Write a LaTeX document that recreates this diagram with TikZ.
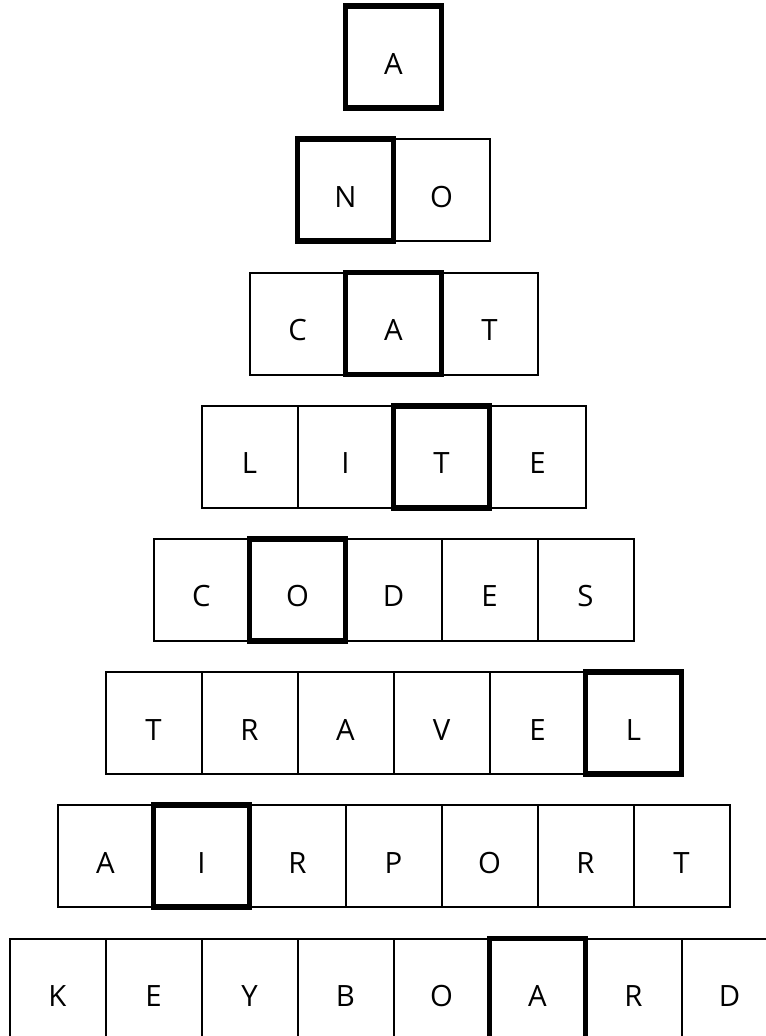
\documentclass[tikz,border=0pt]{standalone}
\usepackage{fontspec}
\setmainfont{Open Sans}
\usepackage{tikz}
\usetikzlibrary{positioning}

\begin{document}
\begin{tikzpicture}[
    x=0.75pt, y=-0.75pt,
    node distance=0pt,
    every node/.style={font=\fontsize{22}{26}\selectfont},
    cellbox/.style={rectangle, draw=black, line width=1.5pt, minimum width=72pt, minimum height=76.5pt, inner sep=0pt, outer sep=0pt, text height=25.5pt, text depth=0pt},
    keybox/.style={cellbox, line width=4.3pt}
]

% Page frame
\useasboundingbox (0,0) rectangle (766,1036);
\clip (0,0) rectangle (766,1036);

% Row 1: A
\node[keybox] (a1) at (393.5,57.1) {A};

% Row 2: NO
\node[keybox] (no1) at (345.5,190.3) {N};
\node[cellbox, right=of no1] (no2) {O};

% Row 3: CAT
\node[cellbox] (cat1) at (297.5,323.5) {C};
\node[keybox, right=of cat1] (cat2) {A};
\node[cellbox, right=of cat2] (cat3) {T};

% Row 4: LITE
\node[cellbox] (lite1) at (249.5,456.7) {L};
\node[cellbox, right=of lite1] (lite2) {I};
\node[keybox, right=of lite2] (lite3) {T};
\node[cellbox, right=of lite3] (lite4) {E};

% Row 5: CODES
\node[cellbox] (codes1) at (201.5,589.9) {C};
\node[keybox, right=of codes1] (codes2) {O};
\node[cellbox, right=of codes2] (codes3) {D};
\node[cellbox, right=of codes3] (codes4) {E};
\node[cellbox, right=of codes4] (codes5) {S};

% Row 6: TRAVEL
\node[cellbox] (travel1) at (153.5,723.1) {T};
\node[cellbox, right=of travel1] (travel2) {R};
\node[cellbox, right=of travel2] (travel3) {A};
\node[cellbox, right=of travel3] (travel4) {V};
\node[cellbox, right=of travel4] (travel5) {E};
\node[keybox, right=of travel5] (travel6) {L};

% Row 7: AIRPORT
\node[cellbox] (airport1) at (105.5,856.3) {A};
\node[keybox, right=of airport1] (airport2) {I};
\node[cellbox, right=of airport2] (airport3) {R};
\node[cellbox, right=of airport3] (airport4) {P};
\node[cellbox, right=of airport4] (airport5) {O};
\node[cellbox, right=of airport5] (airport6) {R};
\node[cellbox, right=of airport6] (airport7) {T};

% Row 8: KEYBOARD
\node[cellbox] (keyboard1) at (57.5,989.5) {K};
\node[cellbox, right=of keyboard1] (keyboard2) {E};
\node[cellbox, right=of keyboard2] (keyboard3) {Y};
\node[cellbox, right=of keyboard3] (keyboard4) {B};
\node[cellbox, right=of keyboard4] (keyboard5) {O};
\node[keybox, right=of keyboard5] (keyboard6) {A};
\node[cellbox, right=of keyboard6] (keyboard7) {R};
\node[cellbox, right=of keyboard7] (keyboard8) {D};

\end{tikzpicture}
\end{document}
